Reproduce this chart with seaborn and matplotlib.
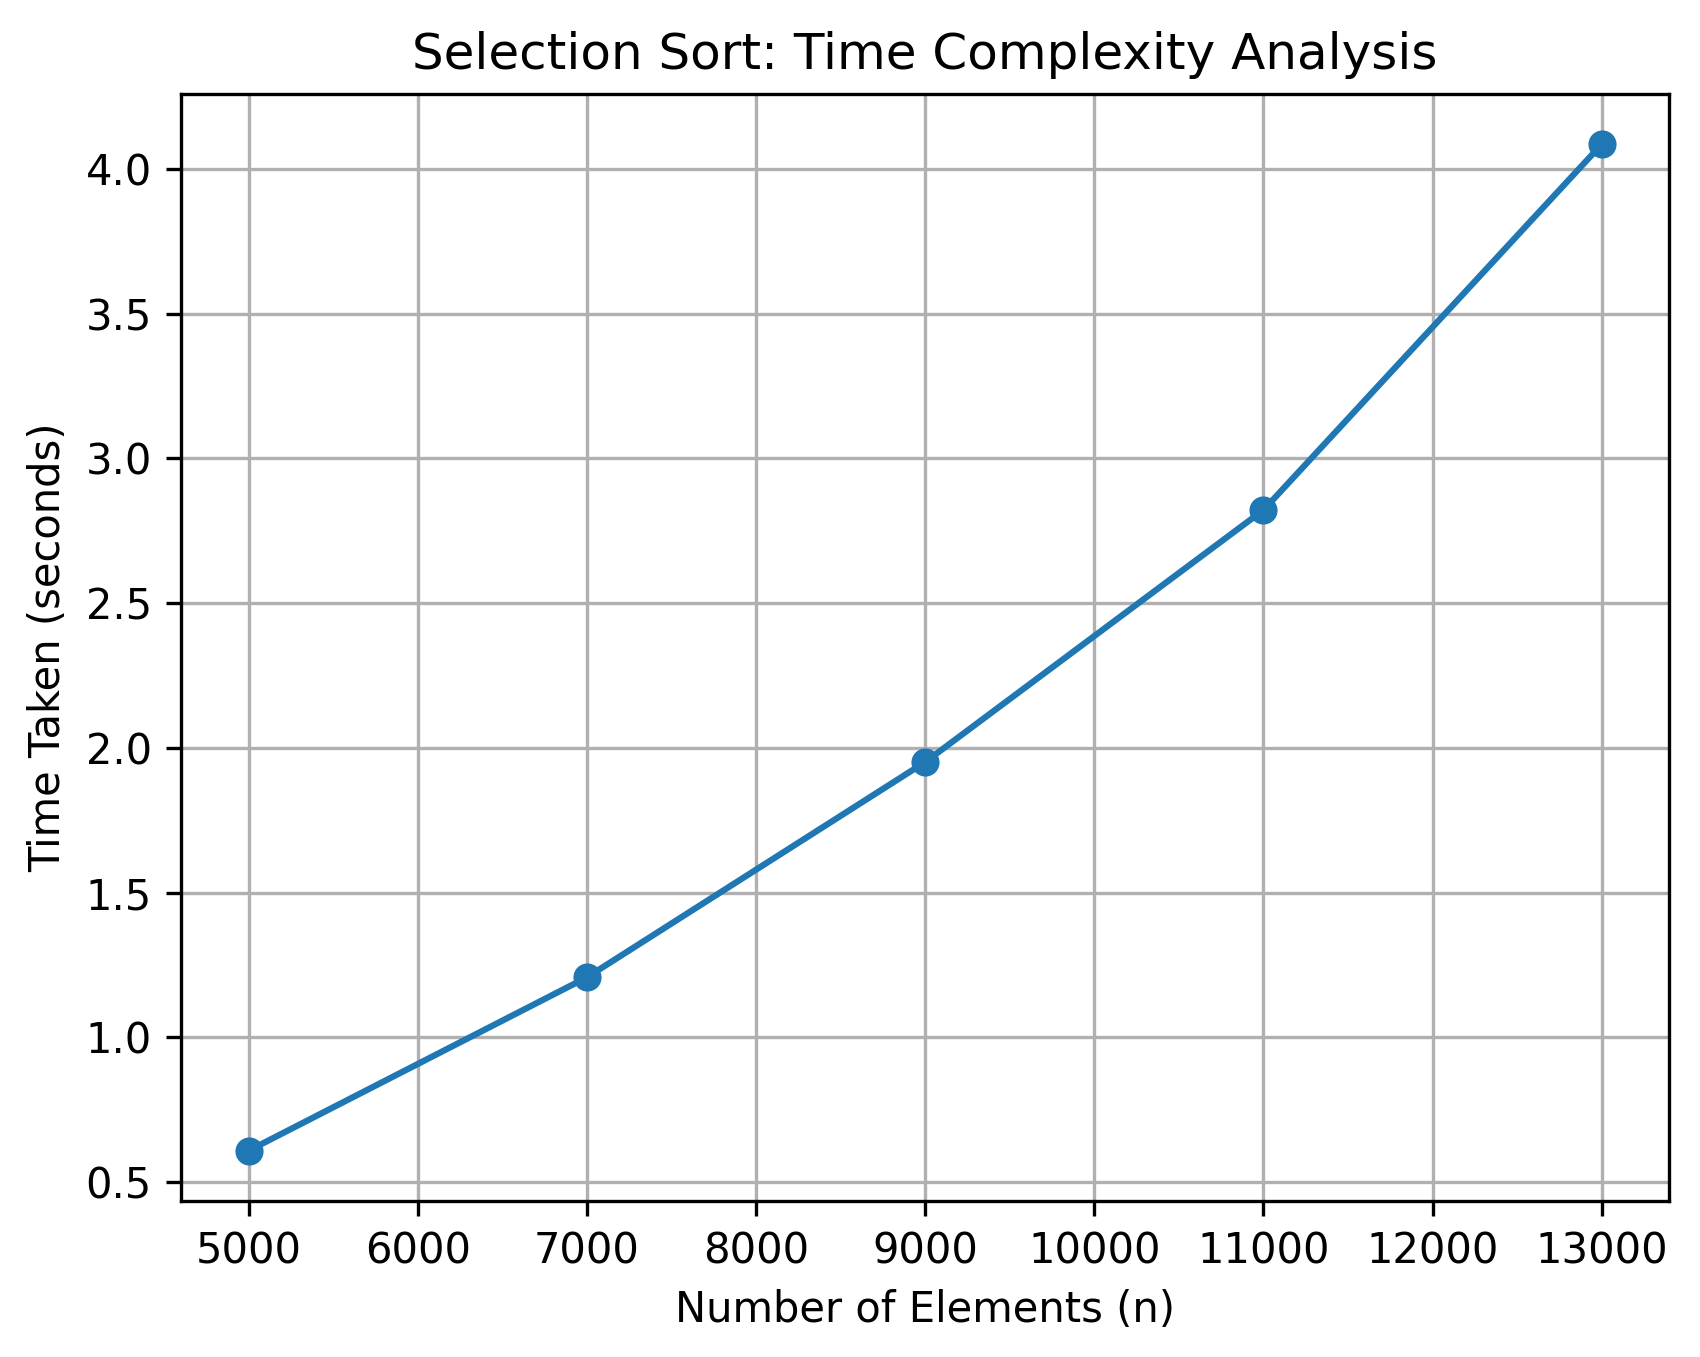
import matplotlib
matplotlib.use("Agg")
import matplotlib.pyplot as plt
import seaborn as sns
import pandas as pd

sizes = [5000, 7000, 9000, 11000, 13000]
times = [0.608, 1.207, 1.951, 2.822, 4.086]

df = pd.DataFrame({"n": sizes, "time": times})

fig = plt.figure(figsize=(1700 / 300, 1357 / 300), dpi=300)
ax = fig.add_axes([0.1065, 0.115, 0.8755, 0.8158])

sns.lineplot(x="n", y="time", data=df, marker="o", color="#1f77b4",
             linewidth=1.5, markersize=6, markeredgecolor="#1f77b4", ax=ax)

ax.set_xticks(range(5000, 13001, 1000))
ax.set_xlabel("Number of Elements (n)")
ax.set_ylabel("Time Taken (seconds)")
ax.set_title("Selection Sort: Time Complexity Analysis")
ax.grid(True)

fig.savefig("out.png", dpi=300)
